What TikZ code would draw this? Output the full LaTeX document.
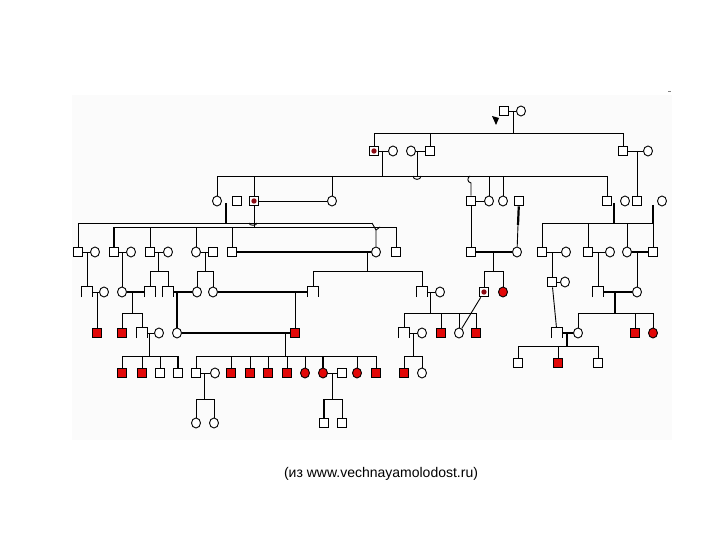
\documentclass[tikz,border=0pt]{standalone}
\usepackage{fontspec}
\setmainfont{Liberation Sans}
\usetikzlibrary{shapes.geometric,calc}
\definecolor{pedred}{RGB}{226,8,8}
\definecolor{dotred}{RGB}{140,10,20}
\definecolor{bgpanel}{RGB}{251,251,251}
\newcommand{\opensq}[3]{\node[hsqbox] (#1) at (#2,#3) {};\draw[ln] (#1.south west) -- (#1.north west) -- (#1.north east) -- (#1.south east);}
\begin{document}
\begin{tikzpicture}[x=1pt,y=-1pt,line join=miter,
  ln/.style={line width=0.9pt},
  thk/.style={line width=2.2pt},
  sq/.style={draw,rectangle,minimum size=9.8pt,inner sep=0pt,line width=0.9pt,fill=white},
  ci/.style={draw,ellipse,minimum width=9pt,minimum height=10pt,inner sep=0pt,line width=0.9pt,fill=white},
  rsq/.style={sq,fill=pedred},
  rci/.style={ci,fill=pedred},
  hsqbox/.style={rectangle,minimum size=9.8pt,inner sep=0pt},
  dsq/.style={sq,path picture={\fill[dotred] (path picture bounding box.center) circle (2.7pt);}}]
\useasboundingbox (0,0) rectangle (720,540);
\fill[bgpanel] (72,95) rectangle (672,440);
\draw[line width=0.8pt,gray] (668,91) -- (671,91);
% ---------- nodes ----------
% row 0
\node[sq] (a0) at (504,111) {};
\node[ci] (b0) at (521,111) {};
\fill (492,116) -- (499,118) -- (496,125) -- cycle;
% row 1
\node[dsq] (p1) at (374,151) {};
\node[ci] (p2) at (393,151) {};
\node[ci] (p3) at (411,151) {};
\node[sq] (p4) at (430,151) {};
\node[sq] (p5) at (623,151) {};
\node[ci] (p6) at (648,151) {};
% row 2
\node[ci] (q1) at (217,201) {};
\node[sq] (q2) at (237,201) {};
\node[dsq] (q3) at (254,201) {};
\node[ci] (q4) at (332,201) {};
\node[sq] (q5) at (471,201) {};
\node[ci] (q6) at (489,201) {};
\node[ci] (q7) at (503,201) {};
\node[sq] (q8) at (519,201) {};
\node[sq] (q9) at (607,201) {};
\node[ci] (q10) at (625,201) {};
\node[sq] (q11) at (637,201) {};
\node[ci] (q12) at (662,201) {};
% row 3
\node[sq] (r1) at (78,252) {};
\node[ci] (r2) at (95,252) {};
\node[sq] (r3) at (114,252) {};
\node[ci] (r4) at (131,252) {};
\node[sq] (r5) at (150,252) {};
\node[ci] (r6) at (168,252) {};
\node[ci] (r7) at (196,252) {};
\node[sq] (r8) at (213,252) {};
\node[sq] (r9) at (232,252) {};
\node[ci] (r10) at (376,252) {};
\node[sq] (r11) at (396,252) {};
\node[sq] (r12) at (471,252) {};
\node[ci] (r13) at (517,252) {};
\node[sq] (r14) at (542,252) {};
\node[ci] (r15) at (566,252) {};
\node[sq] (r16) at (588,252) {};
\node[ci] (r17) at (610,252) {};
\node[ci] (r18) at (627,252) {};
\node[sq] (r19) at (653,252) {};
% row 4
\opensq{t1}{87}{292}
\node[ci] (t2) at (104,292) {};
\node[ci] (t3) at (122,292) {};
\opensq{t4}{150}{292}
\opensq{t5}{168}{292}
\node[ci] (t6) at (197,292) {};
\node[ci] (t7) at (213,292) {};
\opensq{t8}{313}{292}
\opensq{t9}{422}{292}
\node[ci] (t10) at (440,292) {};
\node[dsq] (t11) at (484,292) {};
\node[rci] (t12) at (503,292) {};
\node[sq] (t13) at (552,282) {};
\node[ci] (t14) at (565,282) {};
\opensq{t15}{598}{292}
\node[ci] (t16) at (637,292) {};
% row 5
\node[rsq] (u1) at (97,333) {};
\node[rsq] (u2) at (122,333) {};
\opensq{u3}{142}{333}
\node[ci] (u4) at (159,333) {};
\node[ci] (u5) at (177,333) {};
\node[rsq] (u6) at (295,333) {};
\opensq{u7}{404}{333}
\node[ci] (u8) at (422,333) {};
\node[rsq] (u9) at (441,333) {};
\node[ci] (u10) at (459,333) {};
\node[rsq] (u11) at (476,333) {};
\opensq{u12}{557}{333}
\node[ci] (u13) at (578,333) {};
\node[rsq] (u14) at (635,333) {};
\node[rci] (u15) at (653,333) {};
% row 6
\node[rsq] (v1) at (122,373) {};
\node[rsq] (v2) at (142,373) {};
\node[sq] (v3) at (160,373) {};
\node[sq] (v4) at (178,373) {};
\node[sq] (v5) at (196,373) {};
\node[ci] (v6) at (215,373) {};
\node[rsq] (v7) at (231,373) {};
\node[rsq] (v8) at (250,373) {};
\node[rsq] (v9) at (268,373) {};
\node[rsq] (v10) at (287,373) {};
\node[rci] (v11) at (305,373) {};
\node[rci] (v12) at (323,373) {};
\node[sq] (v13) at (342,373) {};
\node[rci] (v14) at (357,373) {};
\node[rsq] (v15) at (376,373) {};
\node[rsq] (v16) at (404,373) {};
\node[ci] (v17) at (422,373) {};
\node[sq] (w1) at (518,363) {};
\node[rsq] (w2) at (558,363) {};
\node[sq] (w3) at (598,363) {};
% row 7
\node[ci] (x1) at (196,423) {};
\node[ci] (x2) at (214,423) {};
\node[sq] (x3) at (324,423) {};
\node[sq] (x4) at (342,423) {};
% caption
\node[font=\fontsize{14}{16}\selectfont] (cap) at (381,474) {(из www.vechnayamolodost.ru)};
% ---------- connectors ----------
% generation 0 -> 1
\draw[ln] (a0) -- (b0);
\coordinate (m0) at (513,111);
\coordinate (s1a) at (374,133); \coordinate (s1b) at (623,133);
\draw[ln] (s1a) -- (s1b);
\draw[ln] (m0) -- (m0 |- s1a);
\foreach \n in {p1,p4,p5} \draw[ln] (\n) -- (\n |- s1a);
% generation 1 -> 2
\draw[ln] (p1) -- (p2);
\draw[ln] (p3) -- (p4);
\draw[ln] (p5) -- (p6);
\coordinate (m1) at (382,151); \coordinate (m2) at (417,151); \coordinate (m3) at (637,151);
\coordinate (s2a) at (217,176); \coordinate (s2b) at (607,176);
\draw[ln] (s2a) -- (s2b);
\draw[ln] (m1) -- (m1 |- s2a);
\draw[ln] (m2) -- (m2 |- s2a);
\draw[ln] (413,176) .. controls (413,180.5) and (421,180.5) .. (421,176);
\draw[ln] (m3) -- (q11);
\foreach \n in {q1,q3,q4,q6,q7,q9} \draw[ln] (\n) -- (\n |- s2a);
\coordinate (h1) at (471,183);
\draw[ln] (q5) -- (h1) .. controls (467,182) and (467,178) .. (470,176);
% generation 2 -> 3
\draw[ln] (q3) -- (q4);
\draw[ln] (q5) -- (q6);
\coordinate (k1) at (226,203);
\coordinate (s3a) at (78,223); \coordinate (s3aR) at (372,223);
\coordinate (s3b) at (113,227); \coordinate (s3bR) at (396,227);
\draw[thk] (k1) -- (k1 |- s3a);
\draw[ln] (s3a) -- (s3aR);
\draw[ln] (s3b) -- (s3bR);
\draw[ln] (q3) -- (q3 |- s3b);
\draw[ln] (249,223) .. controls (249,226) and (257,226) .. (257,223);
\draw[ln] (r1) -- (r1 |- s3a);
\draw[thk] (r3) -- (r3 |- s3b);
\foreach \n in {r5,r7,r9,r11} \draw[ln] (\n) -- (\n |- s3b);
\coordinate (y1) at (376,230);
\draw[ln] (s3aR) -- (y1) -- (r10);
\draw[ln] (380,227) -- (y1);
\coordinate (k2) at (614,203); \coordinate (k3) at (653,205);
\coordinate (s3c) at (542,223); \coordinate (s3cR) at (653,223);
\draw[thk] (k2) -- (k2 |- s3c);
\draw[thk] (k3) -- (s3cR);
\draw[ln] (s3c) -- (s3cR);
\foreach \n in {r14,r16,r18,r19} \draw[ln] (\n) -- (\n |- s3c);
\coordinate (k4) at (518,225);
\draw[thk] (q8) -- (k4);
\draw[ln] (k4) -- (r13);
\draw[ln] (q5) -- (r12);
% generation 3 marriages
\draw[ln] (r1) -- (r2);
\draw[ln] (r3) -- (r4);
\draw[ln] (r5) -- (r6);
\draw[ln] (r7) -- (r8);
\draw[thk] (r9) -- (r10);
\draw[thk] (r12) -- (r13);
\draw[ln] (r14) -- (r15);
\draw[ln] (r16) -- (r17);
\draw[thk] (r18) -- (r19);
% generation 3 -> 4
\coordinate (n1) at (87,252); \draw[ln] (n1) -- (t1);
\coordinate (n2) at (122,252); \draw[ln] (n2) -- (t3);
\coordinate (n3) at (158,252); \coordinate (s4a) at (150,271); \coordinate (s4aR) at (168,271);
\draw[ln] (n3) -- (n3 |- s4a); \draw[ln] (s4a) -- (s4aR);
\foreach \n in {t4,t5} \draw[ln] (\n) -- (\n |- s4a);
\coordinate (n4) at (205,252); \coordinate (s4b) at (197,271); \coordinate (s4bR) at (213,271);
\draw[ln] (n4) -- (n4 |- s4b); \draw[ln] (s4b) -- (s4bR);
\foreach \n in {t6,t7} \draw[ln] (\n) -- (\n |- s4b);
\coordinate (n5) at (367,252); \coordinate (s4c) at (313,271); \coordinate (s4cR) at (422,271);
\draw[ln] (n5) -- (n5 |- s4c); \draw[ln] (s4c) -- (s4cR);
\foreach \n in {t8,t9} \draw[ln] (\n) -- (\n |- s4c);
\coordinate (n6) at (493,252); \coordinate (s4d) at (484,271); \coordinate (s4dR) at (503,271);
\draw[ln] (n6) -- (n6 |- s4d); \draw[ln] (s4d) -- (s4dR);
\foreach \n in {t11,t12} \draw[ln] (\n) -- (\n |- s4d);
\coordinate (n7) at (552,252); \draw[ln] (n7) -- (t13);
\coordinate (n8) at (598,252); \draw[ln] (n8) -- (t15);
\coordinate (n9) at (637,252); \draw[ln] (n9) -- (t16);
% generation 4 marriages
\draw[ln] (t1) -- (t2);
\draw[thk] (t3) -- (t4);
\draw[thk] (t5) -- (t6);
\draw[thk] (t7) -- (t8);
\draw[ln] (t9) -- (t10);
\draw[ln] (t13) -- (t14);
\draw[thk] (t15) -- (t16);
\draw[ln] (u10) -- (t11);
% generation 4 -> 5
\coordinate (o1) at (97,292); \draw[ln] (o1) -- (u1);
\coordinate (o2) at (132,292); \coordinate (s5a) at (122,313); \coordinate (s5aR) at (142,313);
\draw[ln] (o2) -- (o2 |- s5a); \draw[ln] (s5a) -- (s5aR);
\foreach \n in {u2,u3} \draw[ln] (\n) -- (\n |- s5a);
\coordinate (o3) at (177,292); \draw[thk] (o3) -- (u5);
\coordinate (o4) at (295,292); \draw[ln] (o4) -- (u6);
\coordinate (o5) at (430,292); \coordinate (s5b) at (404,313); \coordinate (s5bR) at (476,313);
\draw[ln] (o5) -- (o5 |- s5b); \draw[ln] (s5b) -- (s5bR);
\foreach \n in {u7,u9,u10,u11} \draw[ln] (\n) -- (\n |- s5b);
\draw[ln] (t13) -- (u12);
\coordinate (o6) at (615,292); \coordinate (s5c) at (578,313); \coordinate (s5cR) at (653,313);
\draw[thk] (o6) -- (o6 |- s5c); \draw[ln] (s5c) -- (s5cR);
\foreach \n in {u13,u14,u15} \draw[ln] (\n) -- (\n |- s5c);
% generation 5 marriages
\draw[ln] (u3) -- (u4);
\draw[thk] (u5) -- (u6);
\draw[ln] (u7) -- (u8);
\draw[thk] (u12) -- (u13);
% generation 5 -> 6
\coordinate (e1) at (149,333); \coordinate (s6a) at (122,356); \coordinate (s6aR) at (178,356);
\draw[ln] (e1) -- (e1 |- s6a); \draw[ln] (s6a) -- (s6aR);
\foreach \n in {v1,v2,v3} \draw[ln] (\n) -- (\n |- s6a);
\draw[thk] (v4) -- (v4 |- s6a);
\coordinate (e2) at (285,333); \coordinate (s6b) at (196,356); \coordinate (s6bR) at (376,356);
\draw[ln] (e2) -- (e2 |- s6b); \draw[ln] (s6b) -- (s6bR);
\foreach \n in {v5,v7,v8,v9,v10,v11,v14,v15} \draw[ln] (\n) -- (\n |- s6b);
\draw[thk] (v12) -- (v12 |- s6b);
\coordinate (e3) at (413,333); \coordinate (s6c) at (404,356); \coordinate (s6cR) at (422,356);
\draw[ln] (e3) -- (e3 |- s6c); \draw[ln] (s6c) -- (s6cR);
\foreach \n in {v16,v17} \draw[ln] (\n) -- (\n |- s6c);
\coordinate (e4) at (567,333); \coordinate (s6d) at (518,346); \coordinate (s6dR) at (598,346);
\draw[thk] (e4) -- (e4 |- s6d); \draw[ln] (s6d) -- (s6dR);
\foreach \n in {w1,w2,w3} \draw[ln] (\n) -- (\n |- s6d);
% generation 6 marriages and 6 -> 7
\draw[ln] (v5) -- (v6);
\draw[ln] (v12) -- (v13);
\coordinate (f1) at (204,373); \coordinate (s7a) at (196,399); \coordinate (s7aR) at (214,399);
\draw[ln] (f1) -- (f1 |- s7a); \draw[ln] (s7a) -- (s7aR);
\foreach \n in {x1,x2} \draw[ln] (\n) -- (\n |- s7a);
\coordinate (f2) at (332,373); \coordinate (s7b) at (324,399); \coordinate (s7bR) at (342,399);
\draw[ln] (f2) -- (f2 |- s7b); \draw[ln] (s7b) -- (s7bR);
\draw[thk] (x3) -- (x3 |- s7b);
\draw[ln] (x4) -- (x4 |- s7b);
\end{tikzpicture}
\end{document}
